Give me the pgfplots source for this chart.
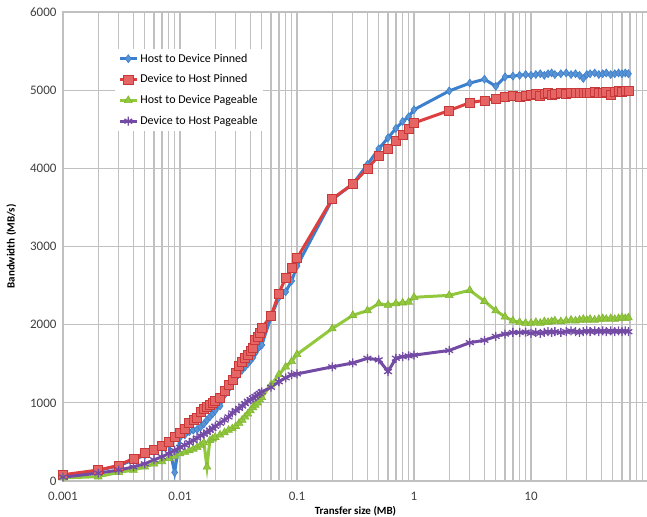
\documentclass[border=0pt]{standalone}
\usepackage{pgfplots}
\usepackage{pgfplotstable}
\usepackage{fontspec}
\setmainfont{Carlito}
\pgfplotsset{compat=1.18}
\definecolor{cblue}{RGB}{60,128,205}
\definecolor{cred}{RGB}{222,62,62}
\definecolor{cgreen}{RGB}{145,200,60}
\definecolor{cpurple}{RGB}{115,75,165}
\definecolor{cgrid}{RGB}{192,192,192}

\pgfplotstableread{
x h2dpin d2hpin h2dpage d2hpage
0.001 70 80 40 50
0.002 135 140 55 100
0.003 195 200 110 140
0.004 270 290 140 180
0.005 330 355 180 220
0.006 380 400 220 270
0.007 420 450 250 310
0.008 470 500 290 350
0.009 110 570 320 390
0.010 560 620 350 430
0.011 590 670 370 460
0.012 630 740 390 490
0.013 650 780 410 520
0.014 660 810 430 550
0.015 690 880 460 580
0.016 730 920 490 600
0.017 780 950 180 625
0.018 820 980 520 650
0.019 860 1000 540 675
0.020 900 1020 560 700
0.022 960 1060 590 740
0.024 1100 1150 620 780
0.026 1180 1230 650 820
0.028 1250 1300 670 870
0.030 1320 1380 700 900
0.032 1380 1480 740 930
0.034 1420 1530 780 960
0.036 1460 1580 820 990
0.038 1500 1620 860 1020
0.040 1540 1660 900 1040
0.042 1580 1700 940 1060
0.044 1640 1800 970 1080
0.046 1690 1850 1000 1100
0.048 1720 1900 1040 1120
0.050 1740 1960 1070 1140
0.06 2100 2110 1230 1200
0.07 2350 2400 1360 1270
0.08 2420 2600 1460 1320
0.09 2560 2730 1530 1360
0.1 2750 2850 1620 1370
0.2 3600 3610 1950 1460
0.3 3800 3800 2120 1510
0.4 4050 4000 2180 1570
0.5 4250 4160 2270 1550
0.6 4390 4250 2250 1400
0.7 4510 4350 2270 1570
0.8 4600 4430 2280 1590
0.9 4660 4500 2290 1600
1.0 4750 4580 2350 1610
2 4990 4740 2375 1670
3 5090 4840 2440 1770
4 5140 4870 2300 1800
5 5050 4890 2180 1850
6 5170 4910 2100 1880
7 5180 4930 2050 1900
8 5190 4920 2030 1900
9 5200 4930 2020 1905
10 5190 4940 2020 1890
11 5200 4950 2030 1900
12 5210 4930 2020 1890
13 5190 4950 2040 1900
14 5210 4960 2030 1910
15 5220 4940 2040 1900
16 5200 4950 2050 1910
18 5210 4960 2040 1900
20 5220 4950 2050 1910
22 5200 4960 2060 1920
24 5210 4970 2050 1910
26 5190 4960 2060 1900
28 5150 4970 2070 1910
30 5200 4960 2060 1920
32 5210 4970 2070 1910
35 5220 4980 2060 1920
38 5200 4960 2070 1910
41 5210 4970 2080 1920
44 5220 4980 2070 1910
48 5200 4940 2080 1920
52 5210 4980 2070 1910
56 5220 4990 2080 1920
60 5210 4980 2090 1910
64 5220 4990 2080 1920
68 5210 4990 2090 1910
}\datatable

\begin{document}
\begin{tikzpicture}
\begin{axis}[
  scale only axis,
  width=585pt, height=469pt,
  xmode=log,
  xmin=0.001, xmax=100,
  ymin=0, ymax=6000,
  xtick={0.001,0.01,0.1,1,10,100},
  xticklabels={0.001,0.01,0.1,1,10,{}},
  minor xtick={0.002,0.003,0.004,0.005,0.006,0.007,0.008,0.009,
    0.02,0.03,0.04,0.05,0.06,0.07,0.08,0.09,
    0.2,0.3,0.4,0.5,0.6,0.7,0.8,0.9,
    2,3,4,5,6,7,8,9,
    20,30,40,50,60,70,80,90},
  ytick={0,1000,2000,3000,4000,5000,6000},
  yticklabels={0,1000,2000,3000,4000,5000,6000},
  grid=both,
  major grid style={cgrid, line width=1.3pt},
  minor grid style={cgrid, line width=1.3pt},
  axis line style={cgrid, line width=1.3pt},
  major tick length=0pt, minor tick length=0pt,
  tick label style={font=\fontsize{13}{15}\selectfont, text=black!75},
  xticklabel style={yshift=-8pt},
  yticklabel style={xshift=-3pt},
  xlabel={Transfer size (MB)},
  ylabel={Bandwidth (MB/s)},
  xlabel style={font=\bfseries\fontsize{11}{13}\selectfont, yshift=2pt},
  ylabel style={font=\bfseries\fontsize{11}{13}\selectfont, yshift=7pt},
  legend style={at={(0.089,0.922)}, anchor=north west, fill=white, draw=none,
    font=\fontsize{12}{14}\selectfont, row sep=7pt, inner sep=3pt},
  legend cell align=left,
  every axis plot/.append style={line width=3pt},
  clip=false,
]
\addplot[cblue, mark=diamond*, mark size=4pt, mark options={fill=cblue!85!white, draw=cblue, line width=0.6pt}] table[x=x, y=h2dpin] {\datatable};
\addlegendentry{Host to Device Pinned}
\addplot[cred, mark=square*, mark size=4.5pt, mark options={fill=cred!80!white, draw=cred!90!black, line width=0.6pt}] table[x=x, y=d2hpin] {\datatable};
\addlegendentry{Device to Host Pinned}
\addplot[cgreen, mark=triangle*, mark size=4.5pt, mark options={fill=cgreen, draw=cgreen!90!black, line width=0.6pt}] table[x=x, y=h2dpage] {\datatable};
\addlegendentry{Host to Device Pageable}
\addplot[cpurple, mark=asterisk, mark size=4.5pt, mark options={draw=cpurple, line width=1.3pt}] table[x=x, y=d2hpage] {\datatable};
\addlegendentry{Device to Host Pageable}
\end{axis}
\pgfresetboundingbox
\useasboundingbox (current axis.south west) ++(-63pt,-35pt) rectangle ++(647pt,516pt);
\end{tikzpicture}
\end{document}
